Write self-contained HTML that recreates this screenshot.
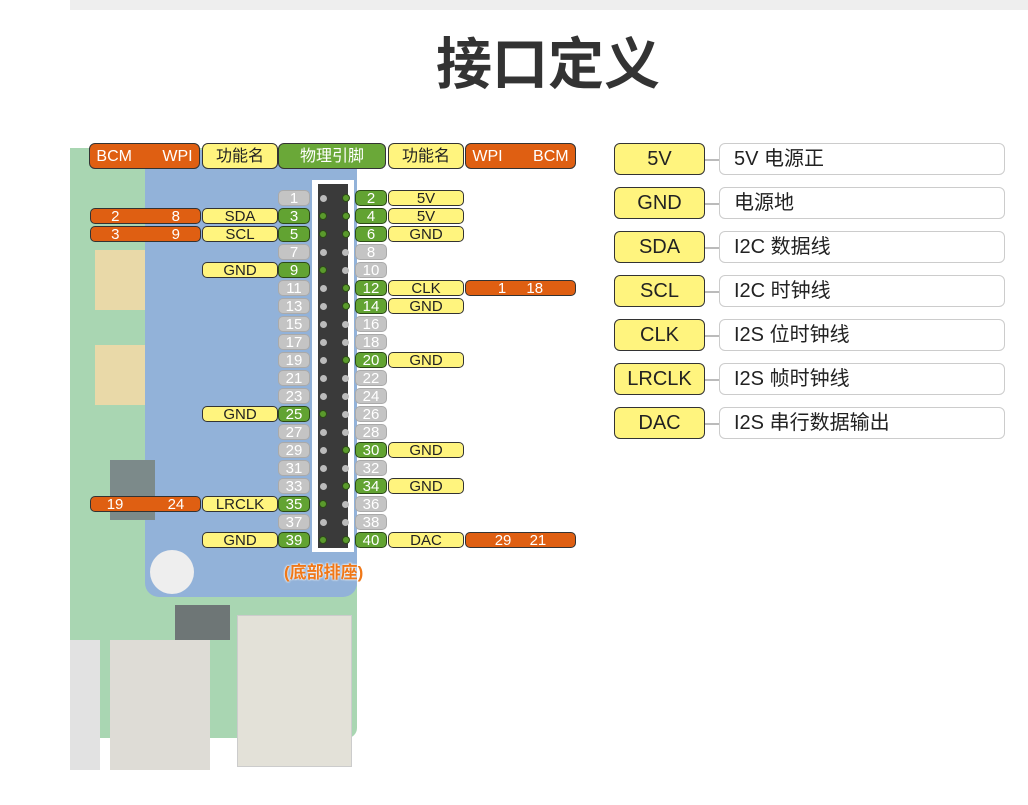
<!DOCTYPE html>
<html><head><meta charset="utf-8"><style>
body{margin:0;width:1028px;height:805px;background:#fff;position:relative;overflow:hidden;font-family:"Liberation Sans","Noto Sans CJK SC",sans-serif}
.a{position:absolute}
.p{position:absolute;height:16px;line-height:16px;border-radius:5px;text-align:center;font-size:15px;box-sizing:border-box}
.g{background:#c4c4c4;color:#fff;width:32px;border:1px solid #aaa}
.G{background:#62a332;color:#fff;width:32px;border:1.5px solid #2c4a18}
.y{background:#fff47e;color:#222;width:76px;border:1.5px solid #333}
.o{background:#df5f12;color:#fff;width:111px;border:1.5px solid #333}
.d{position:absolute;width:7px;height:7px;border-radius:50%;background:#bbb}
.D{position:absolute;width:8px;height:8px;border-radius:50%;background:#5a9a2c;border:1px solid #2c4a18;box-sizing:border-box}
.h{position:absolute;top:143px;height:26px;line-height:25px;border-radius:6px;text-align:center;font-size:16px;border:1.5px solid #333;box-sizing:border-box}
.ly{position:absolute;left:614px;width:91px;height:32px;line-height:31px;background:#fff47e;border:1.5px solid #333;border-radius:6px;text-align:center;font-size:20px;color:#222;box-sizing:border-box}
.lw{position:absolute;left:719px;width:286px;height:32px;line-height:31px;border:1.5px solid #ccc;border-radius:6px;padding-left:14px;font-size:20px;color:#222;box-sizing:border-box}
.lc{position:absolute;left:705px;width:14px;height:1.5px;background:#bbb}
</style></head><body>
<div class="a" style="left:70px;top:0;width:958px;height:10px;background:#eeeeee"></div>
<div class="a" style="left:0;top:20px;width:1096px;text-align:center;font-size:56px;font-weight:bold;color:#333;font-family:'Noto Sans CJK SC',sans-serif">接口定义</div>

<!-- board background -->
<div class="a" style="left:70px;top:148px;width:287px;height:590px;background:#a9d6b2;border-radius:0 0 10px 0"></div>
<div class="a" style="left:95px;top:250px;width:50px;height:60px;background:#e9d9a8"></div>
<div class="a" style="left:95px;top:345px;width:50px;height:60px;background:#e9d9a8"></div>
<div class="a" style="left:145px;top:250px;width:60px;height:170px;background:#f0f0f0"></div>
<div class="a" style="left:145px;top:150px;width:212px;height:447px;background:#92b2d9;border-radius:0 0 14px 14px"></div>
<div class="a" style="left:150px;top:550px;width:44px;height:44px;border-radius:50%;background:#eee"></div>
<div class="a" style="left:110px;top:460px;width:45px;height:60px;background:#7c8a8a"></div>
<div class="a" style="left:175px;top:605px;width:55px;height:35px;background:#6e7676"></div>
<div class="a" style="left:237px;top:615px;width:113px;height:150px;background:#e3e1d8;border:1px solid #ccc"></div>
<div class="a" style="left:110px;top:640px;width:100px;height:130px;background:#dedcd6"></div>
<div class="a" style="left:70px;top:640px;width:30px;height:130px;background:#e2e2e2"></div>
<div class="a" style="left:312px;top:180px;width:42px;height:372px;background:#fff"></div>
<div class="a" style="left:318px;top:184px;width:30px;height:364px;background:#3a3a3a"></div>

<!-- headers -->
<div class="h" style="left:89px;width:111px;background:#df5f12;color:#fff;word-spacing:26px">BCM WPI</div>
<div class="h" style="left:202px;width:76px;background:#fff47e;color:#222">功能名</div>
<div class="h" style="left:278px;width:108px;background:#6aa838;color:#fff">物理引脚</div>
<div class="h" style="left:388px;width:76px;background:#fff47e;color:#222">功能名</div>
<div class="h" style="left:465px;width:111px;background:#df5f12;color:#fff;word-spacing:26px">WPI BCM</div>

<!-- pins -->
<div class="p g" style="left:278px;top:190px">1</div><div class="d" style="left:320px;top:195px"></div><div class="D" style="left:342px;top:194px"></div><div class="p G" style="left:355px;top:190px">2</div>
<div class="p G" style="left:278px;top:208px">3</div><div class="D" style="left:319px;top:212px"></div><div class="D" style="left:342px;top:212px"></div><div class="p G" style="left:355px;top:208px">4</div>
<div class="p G" style="left:278px;top:226px">5</div><div class="D" style="left:319px;top:230px"></div><div class="D" style="left:342px;top:230px"></div><div class="p G" style="left:355px;top:226px">6</div>
<div class="p g" style="left:278px;top:244px">7</div><div class="d" style="left:320px;top:249px"></div><div class="d" style="left:342px;top:249px"></div><div class="p g" style="left:355px;top:244px">8</div>
<div class="p G" style="left:278px;top:262px">9</div><div class="D" style="left:319px;top:266px"></div><div class="d" style="left:342px;top:267px"></div><div class="p g" style="left:355px;top:262px">10</div>
<div class="p g" style="left:278px;top:280px">11</div><div class="d" style="left:320px;top:285px"></div><div class="D" style="left:342px;top:284px"></div><div class="p G" style="left:355px;top:280px">12</div>
<div class="p g" style="left:278px;top:298px">13</div><div class="d" style="left:320px;top:303px"></div><div class="D" style="left:342px;top:302px"></div><div class="p G" style="left:355px;top:298px">14</div>
<div class="p g" style="left:278px;top:316px">15</div><div class="d" style="left:320px;top:321px"></div><div class="d" style="left:342px;top:321px"></div><div class="p g" style="left:355px;top:316px">16</div>
<div class="p g" style="left:278px;top:334px">17</div><div class="d" style="left:320px;top:339px"></div><div class="d" style="left:342px;top:339px"></div><div class="p g" style="left:355px;top:334px">18</div>
<div class="p g" style="left:278px;top:352px">19</div><div class="d" style="left:320px;top:357px"></div><div class="D" style="left:342px;top:356px"></div><div class="p G" style="left:355px;top:352px">20</div>
<div class="p g" style="left:278px;top:370px">21</div><div class="d" style="left:320px;top:375px"></div><div class="d" style="left:342px;top:375px"></div><div class="p g" style="left:355px;top:370px">22</div>
<div class="p g" style="left:278px;top:388px">23</div><div class="d" style="left:320px;top:393px"></div><div class="d" style="left:342px;top:393px"></div><div class="p g" style="left:355px;top:388px">24</div>
<div class="p G" style="left:278px;top:406px">25</div><div class="D" style="left:319px;top:410px"></div><div class="d" style="left:342px;top:411px"></div><div class="p g" style="left:355px;top:406px">26</div>
<div class="p g" style="left:278px;top:424px">27</div><div class="d" style="left:320px;top:429px"></div><div class="d" style="left:342px;top:429px"></div><div class="p g" style="left:355px;top:424px">28</div>
<div class="p g" style="left:278px;top:442px">29</div><div class="d" style="left:320px;top:447px"></div><div class="D" style="left:342px;top:446px"></div><div class="p G" style="left:355px;top:442px">30</div>
<div class="p g" style="left:278px;top:460px">31</div><div class="d" style="left:320px;top:465px"></div><div class="d" style="left:342px;top:465px"></div><div class="p g" style="left:355px;top:460px">32</div>
<div class="p g" style="left:278px;top:478px">33</div><div class="d" style="left:320px;top:483px"></div><div class="D" style="left:342px;top:482px"></div><div class="p G" style="left:355px;top:478px">34</div>
<div class="p G" style="left:278px;top:496px">35</div><div class="D" style="left:319px;top:500px"></div><div class="d" style="left:342px;top:501px"></div><div class="p g" style="left:355px;top:496px">36</div>
<div class="p g" style="left:278px;top:514px">37</div><div class="d" style="left:320px;top:519px"></div><div class="d" style="left:342px;top:519px"></div><div class="p g" style="left:355px;top:514px">38</div>
<div class="p G" style="left:278px;top:532px">39</div><div class="D" style="left:319px;top:536px"></div><div class="D" style="left:342px;top:536px"></div><div class="p G" style="left:355px;top:532px">40</div>

<!-- left function / bcm -->
<div class="p y" style="left:202px;top:208px">SDA</div><div class="p o" style="left:90px;top:208px;word-spacing:48px">2 8</div>
<div class="p y" style="left:202px;top:226px">SCL</div><div class="p o" style="left:90px;top:226px;word-spacing:48px">3 9</div>
<div class="p y" style="left:202px;top:262px">GND</div>
<div class="p y" style="left:202px;top:406px">GND</div>
<div class="p y" style="left:202px;top:496px">LRCLK</div><div class="p o" style="left:90px;top:496px;word-spacing:40px">19 24</div>
<div class="p y" style="left:202px;top:532px">GND</div>

<!-- right function / bcm -->
<div class="p y" style="left:388px;top:190px">5V</div>
<div class="p y" style="left:388px;top:208px">5V</div>
<div class="p y" style="left:388px;top:226px">GND</div>
<div class="p y" style="left:388px;top:280px">CLK</div><div class="p o" style="left:465px;top:280px;word-spacing:16px">1 18</div>
<div class="p y" style="left:388px;top:298px">GND</div>
<div class="p y" style="left:388px;top:352px">GND</div>
<div class="p y" style="left:388px;top:442px">GND</div>
<div class="p y" style="left:388px;top:478px">GND</div>
<div class="p y" style="left:388px;top:532px">DAC</div><div class="p o" style="left:465px;top:532px;word-spacing:14px">29 21</div>

<div class="a" style="left:284px;top:558px;font-size:17px;color:#f07818;font-weight:bold;text-shadow:0 0 2px #fff,0 0 2px #fff">(底部排座)</div>

<!-- legend -->
<div class="ly" style="top:143px">5V</div><div class="lc" style="top:159px"></div><div class="lw" style="top:143px">5V 电源正</div>
<div class="ly" style="top:187px">GND</div><div class="lc" style="top:203px"></div><div class="lw" style="top:187px">电源地</div>
<div class="ly" style="top:231px">SDA</div><div class="lc" style="top:247px"></div><div class="lw" style="top:231px">I2C 数据线</div>
<div class="ly" style="top:275px">SCL</div><div class="lc" style="top:291px"></div><div class="lw" style="top:275px">I2C 时钟线</div>
<div class="ly" style="top:319px">CLK</div><div class="lc" style="top:335px"></div><div class="lw" style="top:319px">I2S 位时钟线</div>
<div class="ly" style="top:363px">LRCLK</div><div class="lc" style="top:379px"></div><div class="lw" style="top:363px">I2S 帧时钟线</div>
<div class="ly" style="top:407px">DAC</div><div class="lc" style="top:423px"></div><div class="lw" style="top:407px">I2S 串行数据输出</div>
</body></html>
